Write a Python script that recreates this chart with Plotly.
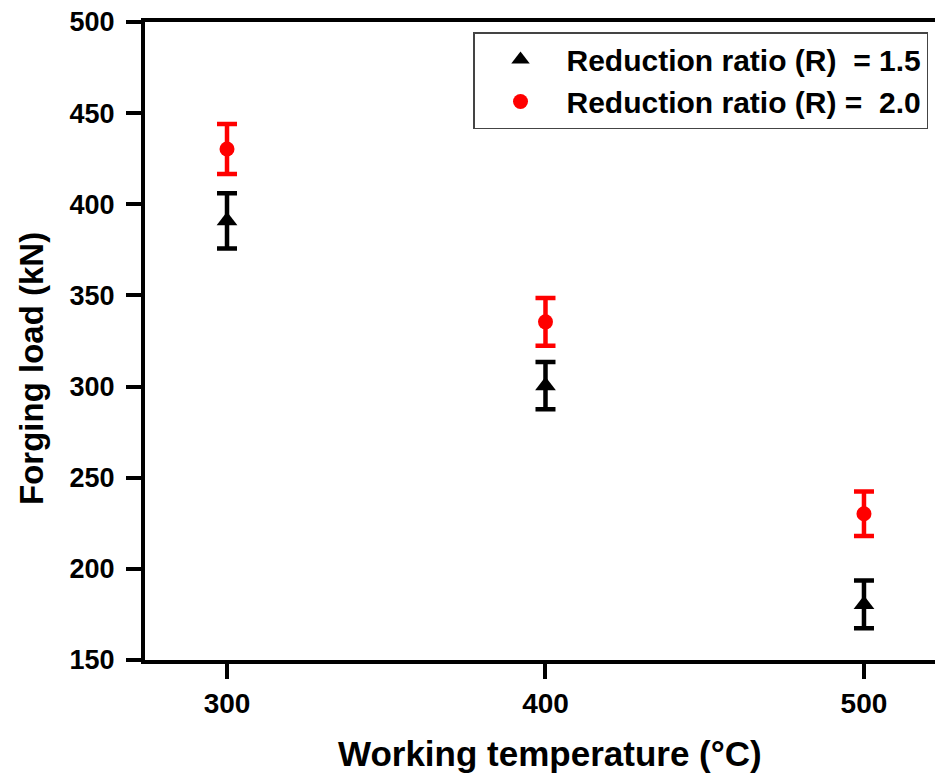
import plotly.graph_objects as go

temps = [300, 400, 500]
load_r15 = [390.9, 300.5, 180.5]
err_r15 = [15.1, 13.0, 13.1]
load_r20 = [430.3, 335.5, 230.2]
err_r20 = [13.7, 13.1, 12.2]
names = ["Reduction ratio (R)  = 1.5", "Reduction ratio (R) =  2.0"]
y_ticks = [150, 200, 250, 300, 350, 400, 450, 500]
x_ticks = [300, 400, 500]

FONT = "Liberation Sans, Arial, sans-serif"

fig = go.Figure()
fig.add_trace(go.Scatter(
    x=temps, y=load_r15, mode="markers", name=names[0],
    marker=dict(symbol="triangle-up", size=18, color="black"),
    error_y=dict(type="data", array=err_r15, visible=True, color="black",
                 thickness=4.5, width=10),
))
fig.add_trace(go.Scatter(
    x=temps, y=load_r20, mode="markers", name=names[1],
    marker=dict(symbol="circle", size=15, color="#ff0000"),
    error_y=dict(type="data", array=err_r20, visible=True, color="#ff0000",
                 thickness=4.5, width=10),
))

fig.update_layout(
    width=935, height=778,
    margin=dict(l=145, r=0, t=22, b=118),
    paper_bgcolor="white", plot_bgcolor="white",
    font=dict(family=FONT, color="black", weight="bold"),
    showlegend=True,
    legend=dict(
        x=(473 - 145) / 790, y=1 - (32 - 22) / 638,
        xanchor="left", yanchor="top",
        bordercolor="#444", borderwidth=1.5, bgcolor="white",
        font=dict(size=30, family=FONT, weight="bold"),
        itemwidth=82,
    ),
    xaxis=dict(
        range=[274.25, 522.3], tickvals=x_ticks,
        showline=True, linewidth=4, linecolor="black", mirror=True,
        ticks="outside", ticklen=15, tickwidth=4, tickcolor="black",
        showgrid=False, zeroline=False,
        tickfont=dict(size=28, family=FONT, weight="bold"),
    ),
    yaxis=dict(
        range=[150, 500], tickvals=y_ticks,
        showline=True, linewidth=4, linecolor="black", mirror=False,
        ticks="outside", ticklen=15, tickwidth=4, tickcolor="black",
        showgrid=False, zeroline=False,
        tickfont=dict(size=27, family=FONT, weight="bold"),
        ticklabelstandoff=6,
    ),
    annotations=[
        dict(text="Working temperature (°C)", xref="paper", yref="paper",
             x=(550 - 145) / 790, y=-(753 - 660) / 638, xanchor="center", yanchor="middle",
             showarrow=False, font=dict(size=35, family=FONT, weight="bold")),
        dict(text="Forging load (kN)", xref="paper", yref="paper",
             x=(31 - 145) / 790, y=1 - (369 - 22) / 638, xanchor="center", yanchor="middle",
             textangle=-90, showarrow=False,
             font=dict(size=33, family=FONT, weight="bold")),
    ],
)

fig.write_html("out.html")
